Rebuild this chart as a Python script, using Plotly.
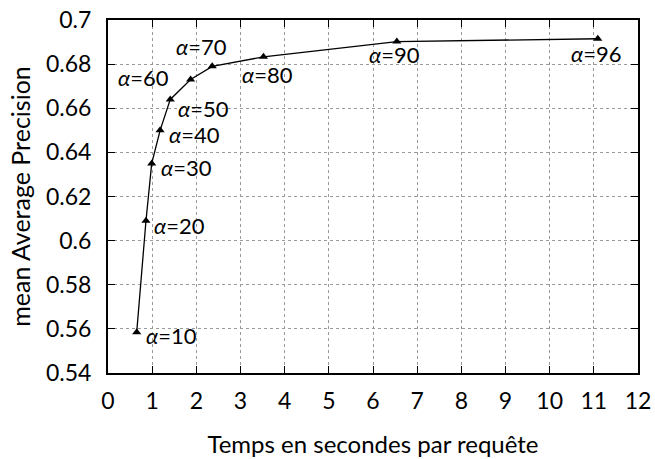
import plotly.graph_objects as go

temps = [0.65, 0.86, 0.99, 1.18, 1.41, 1.87, 2.36, 3.52, 6.54, 11.09]
map_vals = [0.5585, 0.609, 0.635, 0.650, 0.664, 0.673, 0.679, 0.6833, 0.6902, 0.6915]
alphas = [10, 20, 30, 40, 50, 60, 70, 80, 90, 96]

y_ticks = [0.54, 0.56, 0.58, 0.6, 0.62, 0.64, 0.66, 0.68, 0.7]
y_ticktext = ["0.54", "0.56", "0.58", "0.6", "0.62", "0.64", "0.66", "0.68", "0.7"]
x_ticks = list(range(0, 13))

# label placement per point: (xanchor, xshift, yshift)
label_pos = [
    ("left", 7, -3), ("left", 6, -5), ("left", 7, -4), ("left", 7, -4),
    ("left", 6, -9), ("right", -20, 2), ("center", -11, 20),
    ("center", 4, -18), ("center", -2, -13), ("center", -2, -15),
]

FONT = "Lato"

fig = go.Figure()
fig.add_trace(go.Scatter(
    x=temps, y=map_vals, mode="lines+markers",
    line=dict(color="black", width=1.3),
    marker=dict(symbol="triangle-up", size=8, color="black"),
    showlegend=False,
))

for xv, yv, a, (xa, xs, ys) in zip(temps, map_vals, alphas, label_pos):
    fig.add_annotation(
        x=xv, y=yv, xref="x", yref="y", showarrow=False,
        text=f"<i>α</i>={a}", xanchor=xa, yanchor="middle",
        xshift=xs, yshift=ys,
        font=dict(family=FONT, size=22, color="black"),
    )

axis_common = dict(
    showline=True, linecolor="black", linewidth=2, mirror="ticks",
    ticks="inside", ticklen=7, tickcolor="black", tickwidth=1,
    showgrid=True, gridcolor="#9a9a9a", griddash="dot", gridwidth=1,
    zeroline=False, automargin=False,
    tickfont=dict(family=FONT, size=23, color="black"),
)

fig.update_xaxes(
    range=[0, 12], tickvals=x_ticks, ticklabelstandoff=6,
    title=dict(text="Temps en secondes par requête",
               font=dict(family=FONT, size=24, color="black"), standoff=24),
    **axis_common,
)
fig.update_yaxes(
    range=[0.54, 0.7], tickvals=y_ticks, ticktext=y_ticktext,
    ticklabelstandoff=10,
    title=dict(text="mean Average Precision",
               font=dict(family=FONT, size=25, color="black"), standoff=8),
    **axis_common,
)

fig.update_layout(
    width=655, height=459,
    margin=dict(l=108, r=17, t=20, b=86),
    plot_bgcolor="white", paper_bgcolor="white",
)

fig.write_html("out.html")
